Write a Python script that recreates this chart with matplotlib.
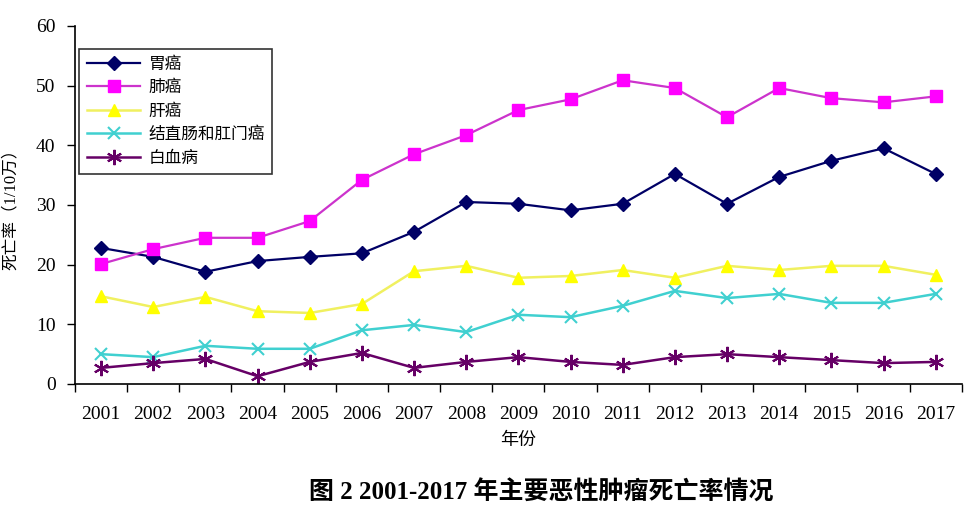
import matplotlib
matplotlib.use("Agg")
import matplotlib.pyplot as plt
from matplotlib.ticker import FixedLocator

plt.rcParams['font.family'] = ['Liberation Serif', 'Noto Sans CJK SC', 'DejaVu Sans']

years = ['2001', '2002', '2003', '2004', '2005', '2006', '2007', '2008', '2009',
         '2010', '2011', '2012', '2013', '2014', '2015', '2016', '2017']
stomach = [22.8, 21.3, 18.8, 20.6, 21.3, 21.9, 25.5, 30.5, 30.2, 29.1, 30.2, 35.2, 30.2, 34.7, 37.4, 39.5, 35.2]
lung = [20.1, 22.6, 24.5, 24.5, 27.3, 34.2, 38.5, 41.7, 45.9, 47.7, 50.9, 49.6, 44.7, 49.6, 47.9, 47.2, 48.2]
liver = [14.7, 12.9, 14.6, 12.2, 11.9, 13.4, 18.9, 19.8, 17.8, 18.1, 19.1, 17.8, 19.8, 19.1, 19.8, 19.8, 18.3]
colorectal = [5.0, 4.5, 6.4, 5.9, 5.9, 9.0, 9.9, 8.7, 11.6, 11.2, 13.1, 15.6, 14.4, 15.1, 13.6, 13.6, 15.1]
leukemia = [2.7, 3.5, 4.2, 1.3, 3.7, 5.2, 2.7, 3.7, 4.5, 3.7, 3.2, 4.5, 5.0, 4.5, 4.0, 3.5, 3.7]
names = ['胃癌', '肺癌', '肝癌', '结直肠和肛门癌', '白血病']

fig = plt.figure(figsize=(9.66, 5.09), dpi=100)
ax = fig.add_axes([0.0776, 0.2456, 0.918, 0.7034])
x = list(range(len(years)))

ax.plot(x, stomach, color='#000066', lw=1.6, marker='D', ms=7, label=names[0])
ax.plot(x, lung, color='#CC33CC', lw=1.6, marker='s', ms=8, mfc='#FF00FF', mec='#FF00FF', label=names[1])
ax.plot(x, liver, color='#F0F060', lw=1.8, marker='^', ms=9, mfc='#FFFF00', mec='#FFFF00', label=names[2])
ax.plot(x, colorectal, color='#40D0D0', lw=1.8, marker='x', ms=9, mew=1.5, label=names[3])
ax.plot(x, leukemia, color='#660066', lw=1.8, marker=(6, 2, 0), ms=11, mew=1.5, label=names[4])

ax.set_xlim(-0.5, len(years) - 0.5)
ax.set_ylim(0, 60)
ax.set_yticks(range(0, 61, 10))
ax.set_xticks(x)
ax.set_xticklabels(years)
ax.xaxis.set_minor_locator(FixedLocator([i - 0.5 for i in range(len(years) + 1)]))
ax.tick_params(axis='x', which='major', length=0, pad=16, labelsize=14)
ax.tick_params(axis='x', which='minor', length=6, direction='out', width=1)
ax.tick_params(axis='y', length=6, direction='out', width=1, labelsize=14, pad=8)
for s in ['top', 'right']:
    ax.spines[s].set_visible(False)
for s in ['left', 'bottom']:
    ax.spines[s].set_linewidth(1.2)

ax.set_xlabel('年份', fontsize=13, labelpad=6)
ax.set_ylabel('死亡率（1/10万）', fontsize=12, labelpad=12)

leg = ax.legend(loc='upper left', bbox_to_anchor=(0.005, 0.935), borderaxespad=0,
                fontsize=12, frameon=True, fancybox=False, edgecolor='black',
                handlelength=3.2, labelspacing=0.45, borderpad=0.45, handletextpad=0.5)
leg.get_frame().set_linewidth(1.2)

fig.text(0.56, 0.033, '图 2 2001-2017 年主要恶性肿瘤死亡率情况', ha='center', va='center',
         fontsize=18, fontweight='bold')

fig.savefig('out.png', dpi=100)
